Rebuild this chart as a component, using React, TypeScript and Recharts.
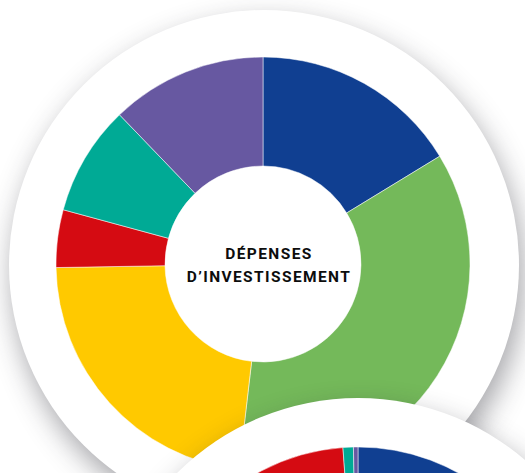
import React from 'react';
import { PieChart, Pie, Cell, Label } from 'recharts';

// catégories et parts (%)
const categories = ['Bleu', 'Vert', 'Jaune', 'Rouge', 'Turquoise', 'Violet'];
const colors = ['#103F91', '#74B95A', '#FFC900', '#D50B12', '#00AA95', '#6758A1'];
const investValues = [16.3, 35.6, 22.9, 4.5, 8.6, 12.2];
// second anneau, en bas (seulement partiellement visible)
const secondValues = [45, 22, 18, 13, 0.8, 0.35];
const titleLines = ['DÉPENSES', 'D’INVESTISSEMENT'];

const investData = categories.map((name, i) => ({ name, value: investValues[i] }));
const secondData = categories.map((name, i) => ({ name, value: secondValues[i] }));

const W = 525;
const H = 473;
const CX = 263;
const CY = 264;

const CenterLabel = () => (
    <text
        x={CX + 6}
        y={CY}
        textAnchor="middle"
        fill="#0d0d0d"
        style={{ fontFamily: 'Roboto, sans-serif', fontWeight: 700, fontSize: 15.5, letterSpacing: 1.4 }}
    >
        <tspan x={CX + 6} dy={-5}>{titleLines[0]}</tspan>
        <tspan x={CX + 6} dy={22.5}>{titleLines[1]}</tspan>
    </text>
);

const circle = (cx: number, cy: number, r: number): React.CSSProperties => ({
    position: 'absolute',
    left: cx - r,
    top: cy - r,
    width: r * 2,
    height: r * 2,
    borderRadius: '50%',
    background: '#fff',
    boxShadow: '4px 12px 28px rgba(40, 40, 50, 0.42)',
});

const layer: React.CSSProperties = { position: 'absolute', left: 0, top: 0 };

export default function App() {
    return (
        <div style={{ position: 'absolute', left: 0, top: 0, width: W, height: H, overflow: 'hidden', background: '#fff' }}>
            <div style={circle(264, 265, 255)} />
            <div style={layer}>
                <PieChart width={W} height={H} margin={{ top: 0, right: 0, bottom: 0, left: 0 }}>
                    <Pie
                        data={investData}
                        dataKey="value"
                        cx={CX}
                        cy={CY}
                        innerRadius={98}
                        outerRadius={207}
                        startAngle={90}
                        endAngle={-270}
                        stroke="#fff"
                        strokeWidth={0.5}
                        isAnimationActive={false}
                    >
                        {investData.map((d, i) => (
                            <Cell key={d.name} fill={colors[i]} />
                        ))}
                        <Label position="center" content={<CenterLabel />} />
                    </Pie>
                </PieChart>
            </div>
            <div style={circle(358, 654, 256)} />
            <div style={layer}>
                <PieChart width={W} height={H} margin={{ top: 0, right: 0, bottom: 0, left: 0 }}>
                    <Pie
                        data={secondData}
                        dataKey="value"
                        cx={358}
                        cy={654}
                        innerRadius={98}
                        outerRadius={207}
                        startAngle={90}
                        endAngle={-270}
                        stroke="#fff"
                        strokeWidth={0.5}
                        isAnimationActive={false}
                    >
                        {secondData.map((d, i) => (
                            <Cell key={d.name} fill={colors[i]} />
                        ))}
                    </Pie>
                </PieChart>
            </div>
        </div>
    );
}
